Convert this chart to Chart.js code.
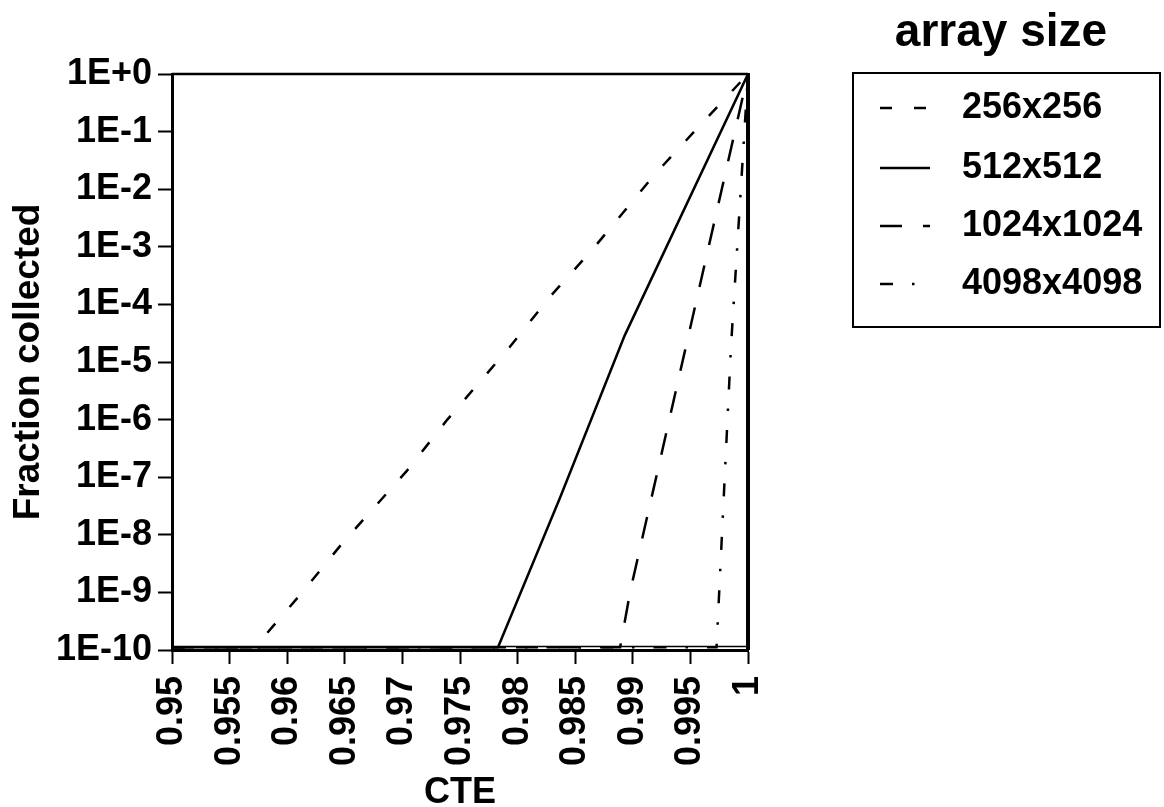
<!DOCTYPE html>
<html>
<head>
<meta charset="utf-8">
<style>
  html, body { margin: 0; padding: 0; background: #ffffff; }
  #wrap { width: 1164px; height: 807px; }
</style>
<script src="https://cdn.jsdelivr.net/npm/chart.js@4.4.1/dist/chart.umd.min.js"></script>
</head>
<body>
<div id="wrap"><canvas id="c" width="1164" height="807"></canvas></div>
<script>
// ---------- data ----------
const FLOOR = 1.12e-10;
const seriesLabels = ['256x256', '512x512', '1024x1024', '4098x4098'];

const cte256  = [0.95, 0.9572, 0.9613, 0.9648, 0.9704, 0.9739, 0.9793, 0.9828, 0.9866, 0.9919, 0.9957, 1.0];
const frac256 = [FLOOR, FLOOR, 1.0e-9, 7.2e-9, 1.3e-7, 1.0e-6, 1.8e-5, 1.35e-4, 9.5e-4, 1.8e-2, 0.12, 1];

const cte512  = [0.95, 0.9783, 0.9837, 0.9893, 1.0];
const frac512 = [FLOOR, FLOOR, 4.5e-8, 2.9e-5, 1];

const cte1024  = [0.95, 0.9889, 0.9898, 1.0];
const frac1024 = [FLOOR, FLOOR, 1.1e-9, 1];

const cte4098  = [0.95, 0.99727, 0.99852, 1.0];
const frac4098 = [FLOOR, FLOOR, 1.8e-5, 1];

const xTickValues = [0.95, 0.955, 0.96, 0.965, 0.97, 0.975, 0.98, 0.985, 0.99, 0.995, 1];
const xTickLabels = ['0.95', '0.955', '0.96', '0.965', '0.97', '0.975', '0.98', '0.985', '0.99', '0.995', '1'];
const yTickValues = [1e-10, 1e-9, 1e-8, 1e-7, 1e-6, 1e-5, 1e-4, 1e-3, 1e-2, 1e-1, 1];
const yTickLabels = ['1E-10', '1E-9', '1E-8', '1E-7', '1E-6', '1E-5', '1E-4', '1E-3', '1E-2', '1E-1', '1E+0'];

const xTitle = 'CTE';
const yTitle = 'Fraction collected';
const legendTitle = 'array size';

// ---------- helpers ----------
function pts(xs, ys) { return xs.map((x, i) => ({ x: x, y: ys[i] })); }
const FONT = '"Liberation Sans", Arial, Helvetica, sans-serif';

const dashes = [[12, 22], [], [22, 21], [13, 19, 2.5, 19]];
const allData = [pts(cte256, frac256), pts(cte512, frac512), pts(cte1024, frac1024), pts(cte4098, frac4098)];

const datasets = seriesLabels.map((lab, i) => ({
  label: lab,
  data: allData[i],
  borderColor: '#000000',
  backgroundColor: '#000000',
  borderWidth: 2.5,
  borderDash: dashes[i],
  pointRadius: 0,
  fill: false,
  tension: 0
}));

// frame on top, right and (inner double line) bottom of plot area
const framePlugin = {
  id: 'frame',
  afterDatasetsDraw(chart) {
    const { ctx, chartArea: { left, top, right, bottom } } = chart;
    ctx.save();
    ctx.strokeStyle = '#000';
    ctx.setLineDash([]);
    ctx.lineWidth = 2.5;
    ctx.beginPath();
    ctx.moveTo(left, top);
    ctx.lineTo(right, top);
    ctx.stroke();
    ctx.lineWidth = 1.5;
    ctx.beginPath();
    ctx.moveTo(left, bottom - 3.5);
    ctx.lineTo(right, bottom - 3.5);
    ctx.stroke();
    ctx.lineWidth = 4;
    ctx.beginPath();
    ctx.moveTo(right, top - 1);
    ctx.lineTo(right, bottom);
    ctx.stroke();
    ctx.restore();
  }
};

// boxed legend with title above it
const boxLegendPlugin = {
  id: 'boxLegend',
  afterDraw(chart, args, opts) {
    const ctx = chart.ctx;
    ctx.save();
    ctx.fillStyle = '#000';
    ctx.textBaseline = 'middle';
    ctx.textAlign = 'center';
    ctx.font = 'bold ' + opts.titleSize + 'px ' + FONT;
    ctx.fillText(legendTitle, opts.titleX, opts.titleY);

    ctx.strokeStyle = '#000';
    ctx.lineWidth = 2;
    ctx.setLineDash([]);
    ctx.strokeRect(opts.box[0], opts.box[1], opts.box[2], opts.box[3]);

    ctx.textAlign = 'left';
    ctx.font = 'bold ' + opts.labelSize + 'px ' + FONT;
    chart.data.datasets.forEach((ds, i) => {
      const y = opts.rows[i];
      ctx.save();
      ctx.lineWidth = ds.borderWidth;
      ctx.setLineDash(ds.borderDash || []);
      ctx.beginPath();
      ctx.moveTo(opts.sampleX0, y);
      ctx.lineTo(opts.sampleX1, y);
      ctx.stroke();
      ctx.restore();
      ctx.fillText(ds.label, opts.textX, y);
    });
    ctx.restore();
  }
};

new Chart(document.getElementById('c'), {
  type: 'line',
  data: { datasets: datasets },
  options: {
    responsive: false,
    animation: false,
    devicePixelRatio: 1,
    layout: { padding: { top: 74, right: 416, left: 0, bottom: 0 } },
    plugins: {
      legend: { display: false },
      tooltip: { enabled: false },
      boxLegend: {
        titleX: 1001, titleY: 33, titleSize: 46,
        box: [853, 73, 307, 254],
        rows: [108, 168, 226, 284],
        sampleX0: 880, sampleX1: 930, textX: 962, labelSize: 36
      }
    },
    scales: {
      x: {
        type: 'linear',
        min: 0.95,
        max: 1,
        afterBuildTicks(scale) { scale.ticks = xTickValues.map(v => ({ value: v })); },
        afterFit(scale) { scale.height = 157; },
        ticks: {
          autoSkip: false,
          minRotation: 90,
          maxRotation: 90,
          padding: 12,
          color: '#000',
          font: { family: FONT, size: 36, weight: 'bold' },
          callback(value, index) { return xTickLabels[index]; }
        },
        grid: { drawOnChartArea: false, drawTicks: true, tickLength: 14, tickWidth: 2, tickColor: '#000' },
        border: { display: true, color: '#000', width: 3 },
        title: {
          display: true,
          text: xTitle,
          color: '#000',
          font: { family: FONT, size: 36, weight: 'bold', lineHeight: 0.8 },
          padding: { top: 0, bottom: 0 }
        }
      },
      y: {
        type: 'logarithmic',
        min: 1e-10,
        max: 1,
        afterBuildTicks(scale) { scale.ticks = yTickValues.map(v => ({ value: v })); },
        afterFit(scale) { scale.width = 172; },
        ticks: {
          autoSkip: false,
          padding: 6,
          color: '#000',
          font: { family: FONT, size: 36, weight: 'bold' },
          callback(value, index) { return yTickLabels[index]; }
        },
        grid: { drawOnChartArea: false, drawTicks: true, tickLength: 14, tickWidth: 2, tickColor: '#000' },
        border: { display: true, color: '#000', width: 3 },
        title: {
          display: true,
          text: yTitle,
          color: '#000',
          font: { family: FONT, size: 37, weight: 'bold', lineHeight: 1 },
          padding: { top: 10, bottom: 0 }
        }
      }
    }
  },
  plugins: [framePlugin, boxLegendPlugin]
});
</script>
</body>
</html>
